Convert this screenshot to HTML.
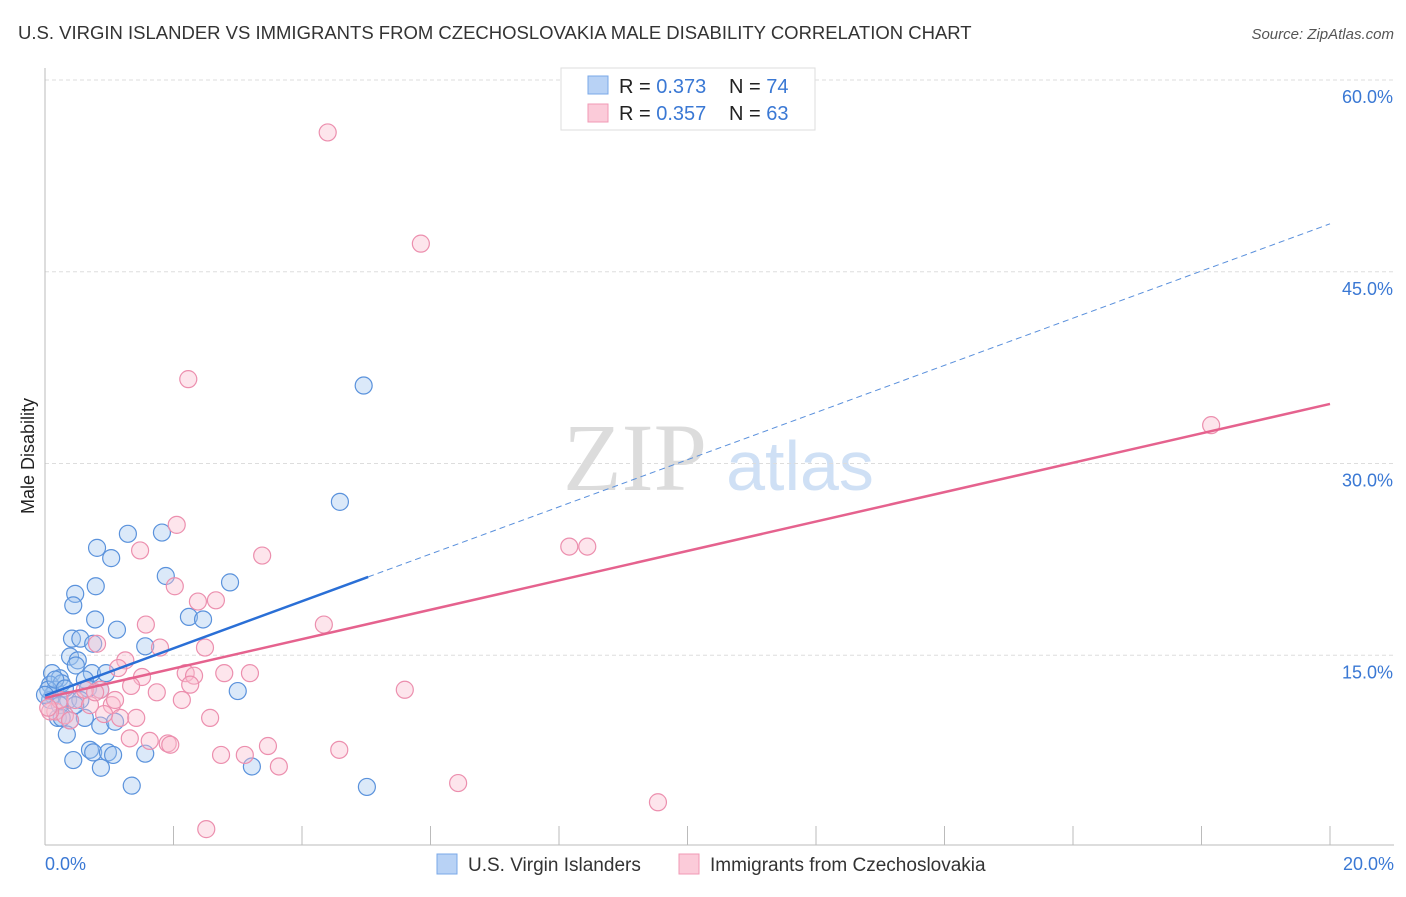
<!DOCTYPE html>
<html><head><meta charset="utf-8"><style>
body{margin:0;background:#fff;font-family:"Liberation Sans",sans-serif;}
#wrap{position:relative;width:1406px;height:892px;}
</style></head><body>
<div id="wrap">
<svg id="svg" width="1406" height="892" xmlns="http://www.w3.org/2000/svg">
<text x="18" y="39" font-size="18.5" fill="#333">U.S. VIRGIN ISLANDER VS IMMIGRANTS FROM CZECHOSLOVAKIA MALE DISABILITY CORRELATION CHART</text>
<text x="1394" y="39" font-size="15" fill="#555" text-anchor="end" font-style="italic">Source: ZipAtlas.com</text>
<text x="34" y="456" font-size="18" fill="#222" text-anchor="middle" transform="rotate(-90 34 456)">Male Disability</text>
<g>
<text x="635" y="490" font-size="96" fill="#dcdcdc" text-anchor="middle" font-family="Liberation Serif,serif">ZIP</text>
<text x="800" y="490" font-size="70" fill="#cfe0f5" text-anchor="middle">atlas</text>
</g>
<g id="grid"></g><g id="axes"></g><g id="pts"></g><g id="lines"></g>
<g>
<rect x="561" y="68" width="254" height="62" fill="#fff" stroke="#ddd"/>
<rect x="588" y="76" width="20" height="18" fill="#b8d2f5" stroke="#7aa8e8"/>
<rect x="588" y="104" width="20" height="18" fill="#fbcbd9" stroke="#f09ab5"/>
<text x="619" y="93" font-size="20" fill="#222">R = <tspan fill="#3a78d4">0.373</tspan></text>
<text x="729" y="93" font-size="20" fill="#222">N = <tspan fill="#3a78d4">74</tspan></text>
<text x="619" y="120" font-size="20" fill="#222">R = <tspan fill="#3a78d4">0.357</tspan></text>
<text x="729" y="120" font-size="20" fill="#222">N = <tspan fill="#3a78d4">63</tspan></text>
</g>
<g>
<rect x="437" y="854" width="20" height="20" fill="#b8d2f5" stroke="#7aa8e8"/>
<text x="468" y="871" font-size="19" fill="#333">U.S. Virgin Islanders</text>
<rect x="679" y="854" width="20" height="20" fill="#fbcbd9" stroke="#f09ab5"/>
<text x="710" y="871" font-size="19" fill="#333">Immigrants from Czechoslovakia</text>
</g>
</svg>
</div>
<script>
const yTicks=[15,30,45,60];
const yTickLabels=["15.0%","30.0%","45.0%","60.0%"];
const xTicks=[0,2,4,6,8,10,12,14,16,18,20];
const xTickLabels=["0.0%","20.0%"];
const blueX=[4.96,4.59,1.29,1.82,0.81,1.03,1.88,2.88,0.79,0.47,0.44,0.78,2.24,2.46,1.12,1.56,0.42,0.55,0.75,0.39,0.51,0.48,0.11,0.23,0.73,0.95,0.08,0.16,0.26,0.62,0.67,0.12,0.36,0.55,0.86,3.0,0.2,0.39,0.62,0.86,1.09,0.34,0.7,0.75,0.98,1.06,1.56,0.44,0.87,1.35,3.22,5.01,0.08,0.23,0.05,0.16,0.31,0.0,0.47,0.26];
const blueY=[36.1,27.0,24.5,24.6,23.4,22.6,21.2,20.7,20.4,19.8,18.9,17.8,18.0,17.8,17.0,15.7,16.3,16.3,15.9,14.9,14.6,14.2,13.6,13.2,13.6,13.6,12.7,12.3,12.8,13.1,12.4,11.9,11.5,11.5,12.3,12.2,10.1,9.9,10.1,9.5,9.8,8.8,7.6,7.4,7.4,7.2,7.3,6.8,6.2,4.8,6.3,4.7,11.5,11.1,12.3,13.1,12.4,11.9,11.1,10.1];
const pinkX=[4.4,5.85,2.23,18.15,2.05,1.48,3.38,8.16,8.44,2.02,2.38,2.66,1.57,4.34,1.79,2.49,0.81,1.25,1.14,2.19,2.32,2.79,3.19,1.51,2.26,1.34,0.86,1.74,5.6,2.13,1.04,2.57,1.17,1.42,0.16,0.31,0.92,1.32,1.63,1.91,1.95,3.47,2.74,3.11,4.58,3.64,6.43,9.54,2.51,0.08,0.23,0.47,0.62,0.7,0.05,0.39,1.09,0.78];
const pinkY=[55.9,47.2,36.6,33.0,25.2,23.2,22.8,23.5,23.5,20.4,19.2,19.3,17.4,17.4,15.6,15.6,15.9,14.6,14.0,13.6,13.4,13.6,13.6,13.3,12.7,12.6,12.3,12.1,12.3,11.5,11.1,10.1,10.1,10.1,10.6,10.3,10.4,8.5,8.3,8.1,8.0,7.9,7.2,7.2,7.6,6.3,5.0,3.5,1.4,10.6,11.5,11.5,12.3,11.1,10.9,9.9,11.5,12.1];
const blueLine=[11.85,48.75], blueSolidEnd=5.03;
const pinkLine=[11.66,34.66];
const NS="http://www.w3.org/2000/svg";
const X=v=>45+v*64.25, Y=v=>847-v*12.783;
function mk(t,a,p){const e=document.createElementNS(NS,t);for(const k in a)e.setAttribute(k,a[k]);document.getElementById(p).appendChild(e);return e;}
yTicks.forEach((t,i)=>{
 const g=mk('line',{x1:45,x2:1394,y1:Y(t),y2:Y(t),stroke:'#ddd','stroke-dasharray':'4,3'},'grid');
 
 
 const l=mk('text',{x:1393,y:Y(t)+23,'font-size':18,fill:'#3a78d4','text-anchor':'end'},'axes');l.textContent=yTickLabels[i];
 
 
});
mk('line',{x1:45,x2:45,y1:68,y2:845,stroke:'#bbb'},'axes');
mk('line',{x1:45,x2:1394,y1:845,y2:845,stroke:'#bbb'},'axes');
xTicks.forEach(t=>{const k=mk('line',{x1:X(t*1),x2:X(t*1),y1:826,y2:845,stroke:'#bbb'},'axes');
 
 });
[[0,'start',45],[1,'end',1394]].forEach(([i,a,x])=>{const l=mk('text',{x:x,y:870,'font-size':18,fill:'#3a78d4','text-anchor':a},'axes');l.textContent=xTickLabels[i];
 
 });
blueX.forEach((v,i)=>{const c=mk('circle',{cx:X(v),cy:Y(blueY[i]),r:8.5,fill:'rgba(160,196,240,0.38)',stroke:'#5a92dc','stroke-width':1.2},'pts');
 
 });
pinkX.forEach((v,i)=>{const c=mk('circle',{cx:X(v),cy:Y(pinkY[i]),r:8.5,fill:'rgba(249,190,208,0.4)',stroke:'#ec8fae','stroke-width':1.2},'pts');
 
 });
const bAt=x=>blueLine[0]+(blueLine[1]-blueLine[0])*x/20;
let l1=mk('line',{x1:X(0),y1:Y(bAt(0)),x2:X(blueSolidEnd),y2:Y(bAt(blueSolidEnd)),stroke:'#2a6fd6','stroke-width':2.5},'lines');


let l2=mk('line',{x1:X(blueSolidEnd),y1:Y(bAt(blueSolidEnd)),x2:X(20),y2:Y(bAt(20)),stroke:'#5a90dc','stroke-width':1,'stroke-dasharray':'6,4'},'lines');


let l3=mk('line',{x1:X(0),y1:Y(pinkLine[0]),x2:X(20),y2:Y(pinkLine[1]),stroke:'#e5628e','stroke-width':2.5},'lines');


</script>
</body></html>
